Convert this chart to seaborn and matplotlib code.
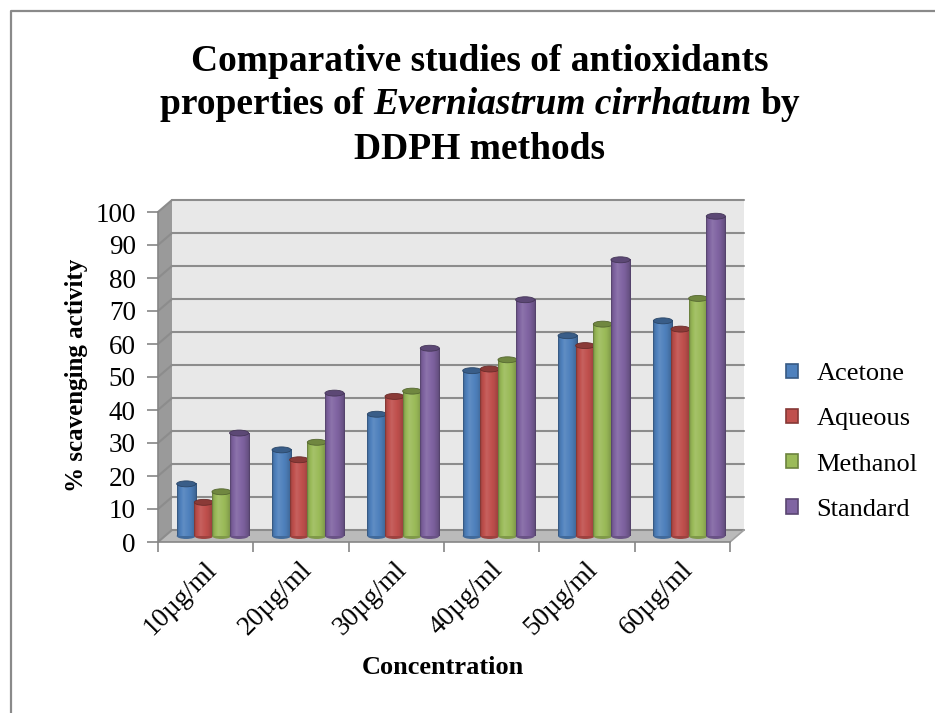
import numpy as np
import pandas as pd
import matplotlib
matplotlib.use("Agg")
import matplotlib.pyplot as plt
import seaborn as sns
from matplotlib.patches import Polygon, Rectangle, Ellipse
from matplotlib.lines import Line2D
from matplotlib.colors import to_rgb
from matplotlib.transforms import ScaledTranslation

# ---- data -------------------------------------------------------------
concentrations = ["10µg/ml", "20µg/ml", "30µg/ml", "40µg/ml", "50µg/ml", "60µg/ml"]
solvents = ["Acetone", "Aqueous", "Methanol", "Standard"]
acetone = [15.8, 26.1, 36.9, 50.1, 60.7, 65.2]
aqueous = [10.2, 23.1, 42.3, 50.6, 57.7, 62.7]
methanol = [13.4, 28.4, 43.9, 53.4, 64.2, 72.0]
standard = [31.2, 43.3, 56.9, 71.6, 83.7, 96.9]
y_ticks = [0, 10, 20, 30, 40, 50, 60, 70, 80, 90, 100]
palette = ["#4F81BD", "#C0504D", "#9BBB59", "#8064A2"]

df = pd.DataFrame({
    "Concentration": concentrations * len(solvents),
    "Solvent": np.repeat(solvents, len(concentrations)),
    "Activity": acetone + aqueous + methanol + standard,
})

sns.set_theme(style="white")
plt.rcParams["font.family"] = ["Liberation Serif", "DejaVu Serif"]
plt.rcParams["text.color"] = "black"
plt.rcParams["xtick.color"] = "black"
plt.rcParams["ytick.color"] = "black"

W, H = 935, 713
fig = plt.figure(figsize=(W / 100, H / 100), dpi=100)

# front face of the 3-D plot box (pixels) and its depth offset
FL, FR, FT, FB = 158, 730, 212, 542
DX, DY = 14, -12


def rect(l, t, r, b):
    return [l / W, 1 - b / H, (r - l) / W, (b - t) / H]


def ypx(v, depth=0.0):
    return FB + DY * depth - (FB - FT) * v / 100.0


def shade(rgb, s):
    rgb = np.asarray(rgb, dtype=float)
    if s >= 1:
        return np.clip(rgb + (1 - rgb) * (s - 1), 0, 1)
    return np.clip(rgb * s, 0, 1)


# ---- decoration layer in pixel coordinates --------------------------------
deco = fig.add_axes([0, 0, 1, 1], zorder=0)
deco.set_xlim(0, W)
deco.set_ylim(H, 0)
deco.axis("off")

grid_c = "#8c8c8c"
deco.add_patch(Rectangle((FL + DX, FT + DY), FR - FL, FB - FT, fc="#e8e8e8", ec="none"))
deco.add_patch(Polygon([(FL, FB), (FL, FT), (FL + DX, FT + DY), (FL + DX, FB + DY)],
                       closed=True, fc="#9a9a9a", ec="none"))
deco.add_patch(Polygon([(FL, FB), (FR, FB), (FR + DX, FB + DY), (FL + DX, FB + DY)],
                       closed=True, fc="#bababa", ec="none"))
for v in y_ticks:
    yb = ypx(v, 1)
    deco.add_line(Line2D([FL + DX, FR + DX], [yb, yb], color=grid_c, lw=1.5))
    deco.add_line(Line2D([FL, FL + DX], [ypx(v, 0), yb], color=grid_c, lw=1.5))
deco.add_line(Line2D([FR, FR + DX], [FB, FB + DY], color="#a0a0a0", lw=1.2))

# outer frame
deco.add_line(Line2D([11, 11, W], [H, 11, 11], color="#8a8a8a", lw=1.6))

# ---- title -------------------------------------------------------------
tkw = dict(fontsize=27, weight="bold", va="baseline", color="black")
cx = 480
deco.text(cx, 71, "Comparative studies of antioxidants", ha="center", **tkw)
deco.text(cx, 159, "DDPH methods", ha="center", **tkw)
parts = [("properties of", "normal"), ("Everniastrum cirrhatum", "italic"), ("by", "normal")]
renderer = fig.canvas.get_renderer()
texts = [deco.text(0, 114, s, ha="left", style=st, **tkw) for s, st in parts]
widths = [t.get_window_extent(renderer).width for t in texts]
space = 0.25 * 27 * 100 / 72
x = cx - (sum(widths) + 2 * space) / 2
for t, w in zip(texts, widths):
    t.set_x(x)
    x += w + space

# ---- front axis with ticks and labels --------------------------------------
ax = fig.add_axes(rect(FL, FT, FR, FB), zorder=2)
ax.patch.set_alpha(0)
ax.set_xlim(-0.5, len(concentrations) - 0.5)
ax.set_ylim(0, 100)
for s in ["top", "right"]:
    ax.spines[s].set_visible(False)
for s in ["left", "bottom"]:
    ax.spines[s].set_color("#868686")
    ax.spines[s].set_linewidth(1.2)
ax.set_yticks(y_ticks)
ax.set_yticklabels([str(v) for v in y_ticks])
ax.set_xticks(np.arange(-0.5, len(concentrations), 1.0))
ax.set_xticklabels([])
ax.set_xticks(np.arange(len(concentrations)), minor=True)
ax.set_xticklabels(concentrations, minor=True, rotation=45, ha="right",
                   rotation_mode="anchor", va="center")
ax.tick_params(axis="y", which="major", length=8, width=1.2, color="#868686",
               pad=8, labelsize=19.5, left=True, direction="out", labelcolor="black")
ax.tick_params(axis="x", which="major", length=7, width=1.2, color="#868686",
               bottom=True, direction="out")
ax.tick_params(axis="x", which="minor", length=0, pad=17, labelsize=19.5, labelcolor="black")
shift = ScaledTranslation(7 / 100, 0, fig.dpi_scale_trans)
for lbl in ax.get_xticklabels(minor=True):
    lbl.set_transform(lbl.get_transform() + shift)
ax.grid(False)

ax.set_xlabel("")
ax.set_ylabel("")
deco.text(443, 668, "Concentration", ha="center", va="center", fontsize=19,
          weight="bold", color="black")
deco.text(77, 375, "% scavenging activity", ha="center", va="center", rotation=90,
          fontsize=18, weight="bold", color="black")

# ---- cylinders ---------------------------------------------------------
axb = fig.add_axes(rect(FL + DX / 2, FT + DY / 2, FR + DX / 2, FB + DY / 2), zorder=3)
sns.barplot(data=df, x="Concentration", y="Activity", hue="Solvent", order=concentrations,
            hue_order=solvents, palette=palette, width=0.74, saturation=1,
            legend=False, ax=axb)
axb.axis("off")

profile = np.interp(np.linspace(0, 1, 64), [0, 0.07, 0.32, 0.7, 0.93, 1],
                    [0.62, 0.9, 1.1, 0.96, 0.8, 0.62])
cap_h = 1.8
for k, p in enumerate(list(axb.patches)):
    x0, w, h = p.get_x(), p.get_width(), p.get_height()
    base = to_rgb(p.get_facecolor())
    xc = x0 + w / 2
    w2 = w * 1.08
    p.set_visible(False)
    z = 10 + 3 * k
    img = np.array([[shade(base, s) for s in profile]])
    axb.imshow(img, extent=(xc - w2 / 2, xc + w2 / 2, 0, h), aspect="auto",
               interpolation="bilinear", zorder=z + 1)
    axb.add_patch(Ellipse((xc, 0), w2, cap_h, fc=shade(base, 0.82), ec="none",
                          zorder=z, clip_on=False))
    axb.add_patch(Ellipse((xc, h), w2, cap_h, fc=shade(base, 0.72),
                          ec=shade(base, 0.55), lw=0.6, zorder=z + 2, clip_on=False))
axb.set_xlim(-0.5, len(concentrations) - 0.5)
axb.set_ylim(0, 100)

# ---- legend ------------------------------------------------------------
handles = [Rectangle((0, 0), 1, 1, fc=c, ec=shade(to_rgb(c), 0.7), lw=1.2) for c in palette]
fig.legend(handles, solvents, loc="center left", bbox_to_anchor=(786 / W, 1 - 442 / H),
           frameon=False, fontsize=19, handlelength=0.45, handleheight=0.45,
           handletextpad=0.7, labelspacing=0.88, borderpad=0, borderaxespad=0,
           labelcolor="black")

fig.savefig("out.png", dpi=100)
